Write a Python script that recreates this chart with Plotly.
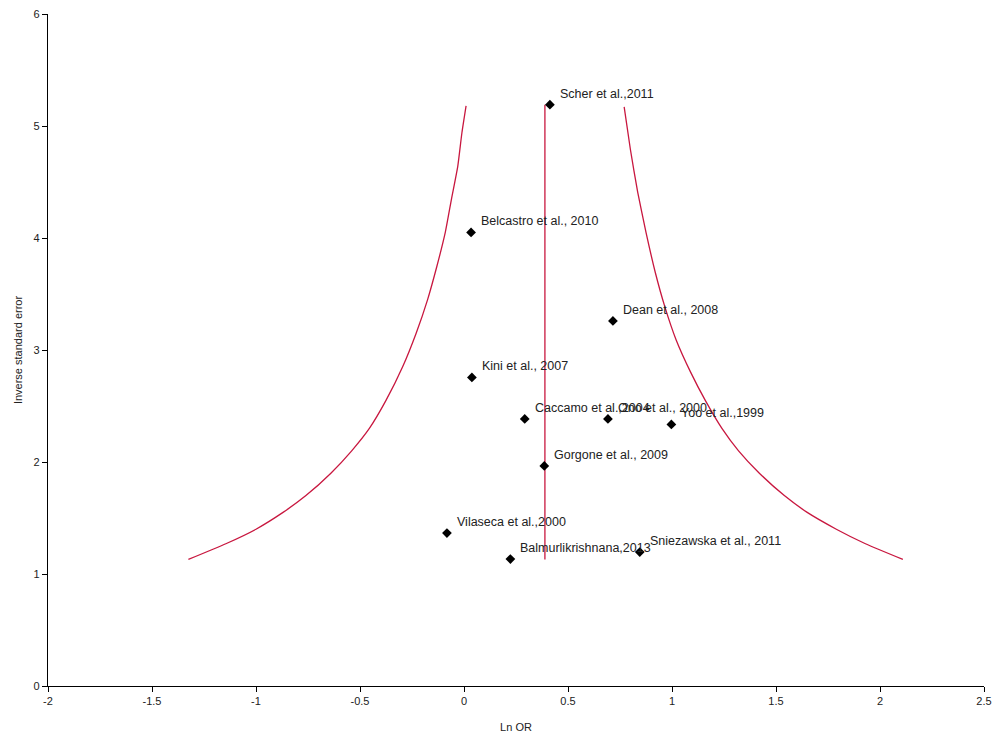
import plotly.graph_objects as go

# Study points
studies = ["Scher et al.,2011", "Belcastro et al., 2010", "Dean et al., 2008", "Kini et al., 2007",
           "Caccamo et al.,2004", "Ono et al., 2000", "Yoo et al.,1999", "Gorgone et al., 2009",
           "Vilaseca et al.,2000", "Balmurlikrishnana,2013", "Sniezawska et al., 2011"]
ln_or = [0.413, 0.034, 0.716, 0.038, 0.292, 0.692, 0.997, 0.386, -0.082, 0.223, 0.845]
inv_se = [5.19, 4.05, 3.26, 2.755, 2.385, 2.385, 2.335, 1.965, 1.366, 1.133, 1.196]

# Pooled estimate line
pooled_x = [0.389, 0.389]
pooled_y = [1.13, 5.19]

# Funnel limits
left_x = [0.01, -0.01, -0.03, -0.06, -0.09, -0.13, -0.175, -0.23, -0.295, -0.375, -0.455,
          -0.54, -0.64, -0.76, -0.87, -1.00, -1.145, -1.325]
left_y = [5.18, 4.94, 4.64, 4.35, 4.05, 3.75, 3.45, 3.15, 2.85, 2.55, 2.30,
          2.10, 1.90, 1.70, 1.55, 1.40, 1.27, 1.13]
right_x = [0.77, 0.80, 0.835, 0.875, 0.92, 0.965, 1.02, 1.09, 1.16, 1.24, 1.32,
           1.42, 1.54, 1.65, 1.79, 1.93, 2.11]
right_y = [5.17, 4.79, 4.41, 4.05, 3.69, 3.39, 3.09, 2.80, 2.55, 2.30, 2.10,
           1.90, 1.70, 1.55, 1.40, 1.27, 1.13]

x_ticks = [-2, -1.5, -1, -0.5, 0, 0.5, 1, 1.5, 2, 2.5]
y_ticks = [0, 1, 2, 3, 4, 5, 6]

RED = "#C8173F"
FONT = "Liberation Sans, Arial, sans-serif"

fig = go.Figure()
for xs, ys in [(left_x, left_y), (right_x, right_y), (pooled_x, pooled_y)]:
    fig.add_trace(go.Scatter(x=xs, y=ys, mode="lines",
                             line=dict(color=RED, width=1.3, shape="spline", smoothing=0.5),
                             hoverinfo="skip"))
fig.add_trace(go.Scatter(x=ln_or, y=inv_se, mode="markers", text=studies,
                         marker=dict(symbol="diamond", size=7.5, color="black")))

for name, x, y in zip(studies, ln_or, inv_se):
    fig.add_annotation(x=x, y=y, text=name, showarrow=False, xanchor="left", yanchor="middle",
                       xshift=8, yshift=11, font=dict(family=FONT, size=12.5, color="#222222"))

fig.update_layout(
    width=1005, height=739,
    margin=dict(l=48, r=21, t=14, b=53),
    paper_bgcolor="white", plot_bgcolor="white",
    showlegend=False,
    font=dict(family=FONT, size=11, color="#222222"),
)
fig.update_xaxes(range=[-2, 2.5], tickvals=x_ticks, ticktext=[str(v) for v in x_ticks],
                 automargin=False,
                 showgrid=False, zeroline=False, showline=True, linecolor="black", linewidth=1.3,
                 ticks="outside", ticklen=5, tickcolor="black",
                 title=dict(text="Ln OR", font=dict(size=11), standoff=16))
fig.update_yaxes(range=[0, 6], tickvals=y_ticks, ticktext=[str(v) for v in y_ticks],
                 automargin=False,
                 showgrid=False, zeroline=False, showline=True, linecolor="black", linewidth=1.3,
                 ticks="outside", ticklen=5, tickcolor="black",
                 title=dict(text="Inverse standard error", font=dict(size=11), standoff=8))

fig.write_html("out.html", config={"displayModeBar": False},
               post_script="document.body.style.margin='0px';document.body.style.overflow='hidden';")
